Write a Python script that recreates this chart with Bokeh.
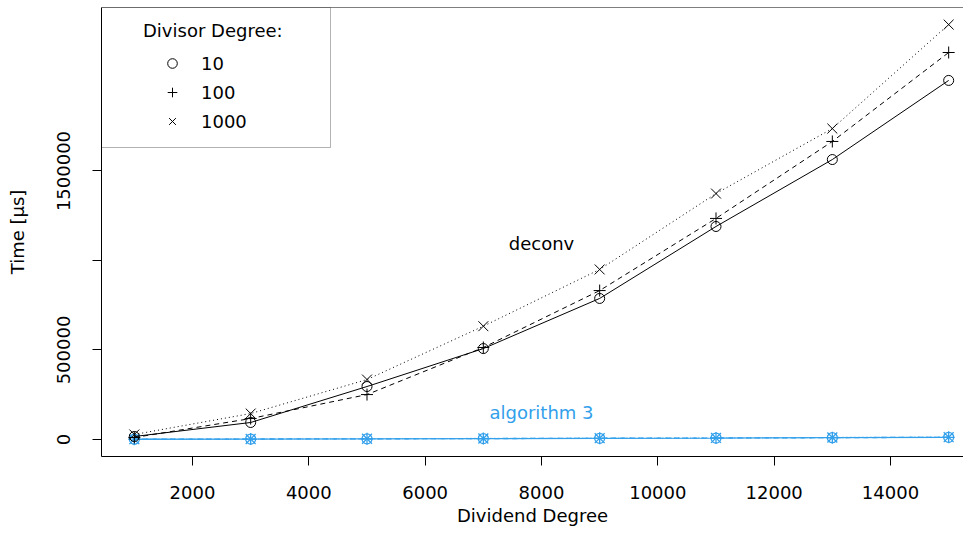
from bokeh.plotting import figure
from bokeh.models import Range1d, FixedTicker, Legend, LegendItem, Label, BoxAnnotation, Span
from bokeh.embed import file_html
from bokeh.resources import INLINE

# ---------------- data ----------------
dividend = [1000, 3000, 5000, 7000, 9000, 11000, 13000, 15000]

deconv_10 = [16800, 95000, 296000, 508000, 788000, 1190000, 1564000, 2006000]
deconv_100 = [11000, 117000, 251000, 514000, 832000, 1235000, 1665000, 2162000]
deconv_1000 = [28000, 145000, 335000, 633000, 950000, 1374000, 1737000, 2318000]

alg3_10 = [1500, 2500, 3500, 5000, 6500, 8000, 10000, 12000]
alg3_100 = [1600, 2600, 3700, 5200, 6800, 8300, 10300, 12400]
alg3_1000 = [1800, 2900, 4100, 5700, 7300, 8900, 11000, 13200]

divisor_labels = ["10", "100", "1000"]

x_ticks = [2000, 4000, 6000, 8000, 10000, 12000, 14000]
x_tick_labels = ["2000", "4000", "6000", "8000", "10000", "12000", "14000"]
y_ticks = [0, 500000, 1000000, 1500000]
y_tick_labels = ["0", "500000", "", "1500000"]

# ---------------- style / layout ----------------
FONT = "DejaVu Sans"
FS = "18px"
BLACK = "black"
BLUE = "#33a0eb"

W, H = 963, 530
BORDER_L, BORDER_T, BORDER_B = 101, 7, 74
FRAME_W, FRAME_H = W - BORDER_L, H - BORDER_T - BORDER_B

X_START = 435.5
X_END = X_START + FRAME_W * 12000 / 698.0
Y_START, Y_END = -94972, 2413400
PX_X = FRAME_W / (X_END - X_START)
PX_Y = FRAME_H / (Y_END - Y_START)

p = figure(width=W, height=H,
           x_range=Range1d(X_START, X_END), y_range=Range1d(Y_START, Y_END),
           output_backend="svg", toolbar_location=None,
           min_border_left=BORDER_L, min_border_right=0,
           min_border_top=BORDER_T, min_border_bottom=BORDER_B)
p.grid.visible = False
p.outline_line_color = None
p.background_fill_color = "white"
p.border_fill_color = "white"

# axes
for ax in (p.xaxis[0], p.yaxis[0]):
    ax.major_label_text_font = FONT
    ax.major_label_text_font_size = FS
    ax.major_label_text_color = BLACK
    ax.axis_label_text_font = FONT
    ax.axis_label_text_font_size = FS
    ax.axis_label_text_font_style = "normal"
    ax.axis_label_text_color = BLACK
    ax.axis_line_color = BLACK
    ax.major_tick_line_color = BLACK
    ax.major_tick_out = 9
    ax.major_tick_in = 0
    ax.minor_tick_line_color = None

p.xaxis.ticker = FixedTicker(ticks=x_ticks)
p.xaxis.major_label_overrides = dict(zip(x_ticks, x_tick_labels))
p.xaxis.axis_label = "Dividend Degree"
p.xaxis.major_label_standoff = 20
p.xaxis.axis_label_standoff = 3

p.yaxis.ticker = FixedTicker(ticks=y_ticks)
p.yaxis.major_label_overrides = dict(zip(y_ticks, y_tick_labels))
p.yaxis.major_label_orientation = "vertical"
p.yaxis.axis_label = "Time [µs]"
p.yaxis.major_label_standoff = 22
p.yaxis.axis_label_standoff = 27

# top frame line
p.add_layout(Span(location=Y_END, dimension="width", line_color=BLACK, line_width=1))

series = [
    (deconv_10, alg3_10, "solid", "circle", 10),
    (deconv_100, alg3_100, "5 4", "cross", 12),
    (deconv_1000, alg3_1000, "1 3", "x", 14),
]

legend_renderers = []
for dec, alg, dash, marker, size in series:
    p.line(dividend, alg, line_color=BLUE, line_width=1.3, line_dash=dash)
    p.scatter(dividend, alg, marker=marker, size=size, fill_color=None,
              line_color=BLUE, line_width=1.3)
for dec, alg, dash, marker, size in series:
    p.line(dividend, dec, line_color=BLACK, line_width=1, line_dash=dash)
    r = p.scatter(dividend, dec, marker=marker, size=size, fill_color=None,
                  line_color=BLACK, line_width=1)
    legend_renderers.append(r)

# text labels
p.add_layout(Label(x=8000, y=1097000, text="deconv", text_align="center",
                   text_baseline="middle", text_font=FONT, text_font_size=FS,
                   text_color=BLACK))
p.add_layout(Label(x=8000, y=151000, text="algorithm 3", text_align="center",
                   text_baseline="middle", text_font=FONT, text_font_size=FS,
                   text_color=BLUE))

# legend
legend = Legend(
    items=[LegendItem(label=lab, renderers=[r]) for lab, r in zip(divisor_labels, legend_renderers)],
    location=(42, 323), title="Divisor Degree:",
    padding=15, spacing=5, glyph_width=58, glyph_height=24, label_height=24,
    label_standoff=0, title_standoff=10, margin=0,
    border_line_color=None, background_fill_alpha=0,
    label_text_font=FONT, label_text_font_size=FS, label_text_color=BLACK,
    title_text_font=FONT, title_text_font_size=FS, title_text_font_style="normal",
    title_text_color=BLACK,
)
p.add_layout(legend)
p.add_layout(BoxAnnotation(left=X_START, right=X_START + 229 / PX_X,
                           top=Y_END, bottom=Y_END - 140 / PX_Y,
                           fill_color=None, line_color=BLACK, line_width=1))

open("out.html", "w").write(file_html(p, INLINE))
